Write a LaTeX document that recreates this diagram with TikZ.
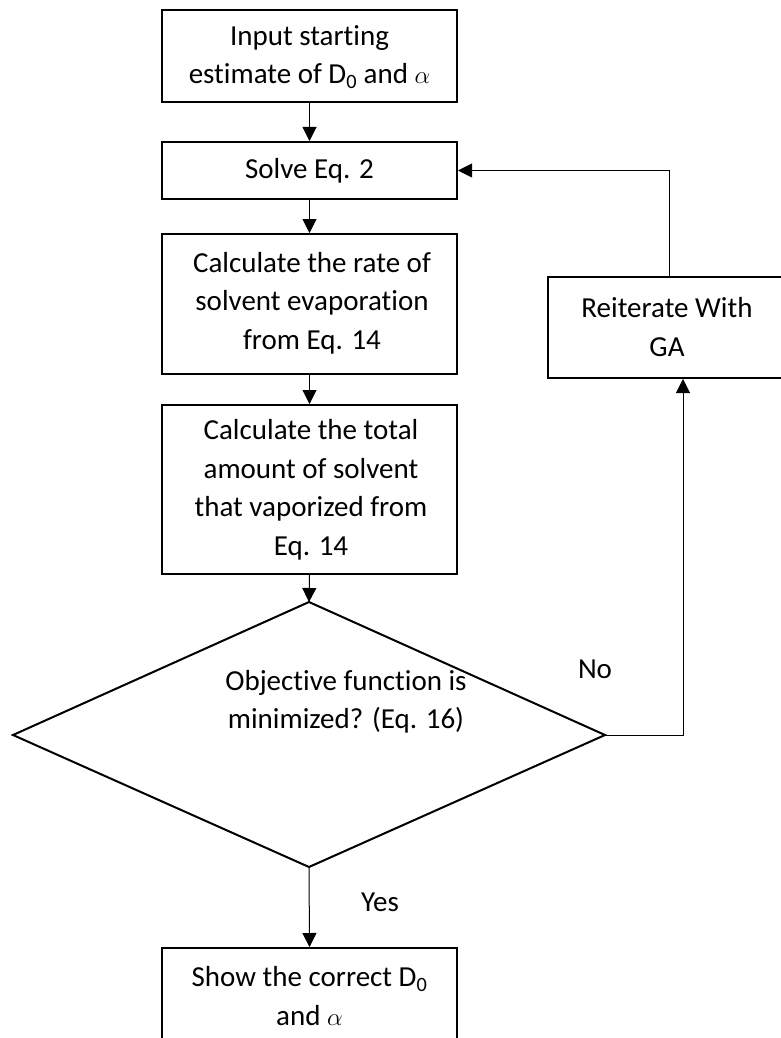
\documentclass[tikz,border=0pt]{standalone}
\usepackage{fontspec}
\setmainfont{Carlito}[Ligatures=NoCommon]
\usetikzlibrary{arrows.meta}
\begin{document}
\begin{tikzpicture}[x=1pt,y=-1pt,
  every node/.style={font=\fontsize{29pt}{38.5pt}\selectfont},
  box/.style={draw,line width=2pt,minimum width=295pt,inner sep=0pt,align=center},
  conn/.style={line width=1pt,-{Triangle[length=14pt,width=14pt]}},
  lbl/.style={inner sep=0pt,align=center}]
\path[use as bounding box,clip] (0,0) rectangle (781,1038);
\fill[white] (0,0) rectangle (781,1038);
% boxes
\node[box,minimum height=92pt] (b1) at (309.5,56) {};
\node[lbl] (t1) at (309.5,57) {Input starting\\estimate of D\textsubscript{0} and $\alpha$};
\node[box,minimum height=57pt] (b2) at (309.5,170.5) {};
\node[lbl] (t2) at (309.5,171) {Solve Eq. 2};
\node[box,minimum height=140pt] (b3) at (309.5,304) {};
\node[lbl] (t3) at (312,303) {Calculate the rate of\\solvent evaporation\\from Eq. 14};
\node[box,minimum height=169pt] (b4) at (309.5,489.5) {};
\node[lbl] (t4) at (311,490) {Calculate the total\\amount of solvent\\that vaporized from\\Eq. 14};
\node[box,minimum height=124pt] (b5) at (309.5,1010) {};
\node[lbl] (t5) at (309.5,996) {Show the correct D\textsubscript{0}\\and $\alpha$};
\node[draw,line width=2pt,minimum width=242pt,minimum height=101pt,inner sep=0pt] (r) at (669,327.5) {};
\node[lbl] (tr) at (667,327) {Reiterate With\\GA};
% diamond
\coordinate (dT) at (309,602);
\coordinate (dB) at (309,867);
\coordinate (dL) at (13,735);
\coordinate (dR) at (605,735);
\draw[line width=2pt,line join=miter] (dT) -- (dR) -- (dB) -- (dL) -- cycle;
\node[lbl] (td) at (346,702) {Objective function is\\minimized? (Eq. 16)};
% labels
\node[lbl] (yes) at (380,902) {Yes};
\node[lbl] (no) at (595,669) {No};
% connectors
\draw[conn] (b1.south) -- (b2.north);
\draw[conn] (b2.south) -- (b3.north);
\draw[conn] (b3.south) -- (b4.north);
\draw[conn] (b4.south) -- (dT);
\draw[conn] (dB) -- (b5.north);
\draw[conn] (r.north) |- (b2.east);
\draw[conn] (dR) -| ([xshift=14pt]r.south);
\end{tikzpicture}
\end{document}
